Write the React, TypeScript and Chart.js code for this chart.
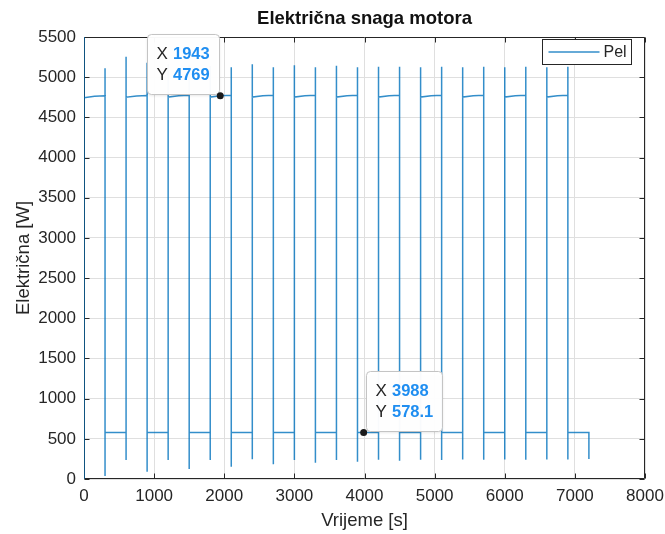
import React, { useEffect, useRef } from "react";
import { Chart, registerables } from "chart.js";

Chart.register(...registerables);

// ---- data ----
const chartTitle = "Električna snaga motora";
const xAxisTitle = "Vrijeme [s]";
const yAxisTitle = "Električna [W]";
const seriesName = "Pel";

const xTicks = [0, 1000, 2000, 3000, 4000, 5000, 6000, 7000, 8000];
const yTicks = [0, 500, 1000, 1500, 2000, 2500, 3000, 3500, 4000, 4500, 5000, 5500];

// value at t = 0 (line rises from 0 past the top of the axes)
const initialValues = [0, 5500];

// start times of each 300 s segment
const segmentTimes = [0, 300, 600, 900, 1200, 1500, 1800, 2100, 2400, 2700, 3000, 3300,
  3600, 3900, 4200, 4500, 4800, 5100, 5400, 5700, 6000, 6300, 6600, 6900];
// switching instants (segment ends)
const switchTimes = [300, 600, 900, 1200, 1500, 1800, 2100, 2400, 2700, 3000, 3300, 3600,
  3900, 4200, 4500, 4800, 5100, 5400, 5700, 6000, 6300, 6600, 6900, 7200];

// power level at start / middle / end of each segment
const segStart = [4743, 580, 4750, 579, 4752, 579, 4752, 579, 4753, 579, 4753, 578,
  4753, 578, 4753, 578, 4753, 578, 4753, 578, 4753, 578, 4753, 578];
const segMid = [4762, 578, 4766, 578, 4768, 578, 4769, 578, 4770, 578, 4770, 578,
  4770, 578.1, 4770, 578, 4770, 578, 4770, 578, 4770, 578, 4770, 578];
const segEnd = [4768, 578, 4773, 578, 4775, 578, 4776, 578, 4776, 578, 4776, 578,
  4776, 578, 4776, 578, 4776, 578, 4776, 578, 4776, 578, 4776, 578];

// transient peaks at each switching instant
const spikeMax = [5110, 5255, 5180, 5160, 5150, 5140, 5123, 5160, 5123, 5150, 5123, 5143,
  5123, 5131, 5131, 5123, 5131, 5123, 5131, 5123, 5131, 5123, 5131, 578];
const spikeMin = [37, 236, 91, 236, 124, 236, 153, 245, 182, 236, 203, 236,
  216, 240, 228, 240, 236, 242, 240, 242, 240, 242, 242, 249];

// data tips
const tipX = [1943, 3988];
const tipY = [4769, 578.1];
const tipYLabels = ["4769", "578.1"];

const FONT = '"Liberation Sans", Arial, Helvetica, sans-serif';
const LINE_COLOR = "rgba(0,114,189,0.8)";
const AXIS_COLOR = "#262626";

function buildPoints() {
  const pts: { x: number; y: number }[] = [];
  initialValues.forEach((v) => pts.push({ x: 0, y: v }));
  for (let i = 0; i < segmentTimes.length; i++) {
    const t0 = segmentTimes[i];
    const t1 = switchTimes[i];
    pts.push({ x: t0, y: segStart[i] });
    pts.push({ x: (t0 + t1) / 2, y: segMid[i] });
    pts.push({ x: t1, y: segEnd[i] });
    pts.push({ x: t1, y: spikeMax[i] });
    pts.push({ x: t1, y: spikeMin[i] });
  }
  return pts;
}

function roundRect(ctx: CanvasRenderingContext2D, x: number, y: number, w: number, h: number, r: number) {
  ctx.beginPath();
  ctx.moveTo(x + r, y);
  ctx.lineTo(x + w - r, y);
  ctx.arcTo(x + w, y, x + w, y + r, r);
  ctx.lineTo(x + w, y + h - r);
  ctx.arcTo(x + w, y + h, x + w - r, y + h, r);
  ctx.lineTo(x + r, y + h);
  ctx.arcTo(x, y + h, x, y + h - r, r);
  ctx.lineTo(x, y + r);
  ctx.arcTo(x, y, x + r, y, r);
  ctx.closePath();
}

const framePlugin = {
  id: "matlabFrame",
  beforeDatasetsDraw(chart: any) {
    const { ctx, chartArea, scales } = chart;
    const { left, right, top, bottom } = chartArea;
    ctx.save();
    ctx.strokeStyle = AXIS_COLOR;
    ctx.lineWidth = 1;
    const L = Math.round(left) + 0.5;
    const R = Math.round(right) - 0.5;
    const T = Math.round(top) + 0.5;
    const B = Math.round(bottom) - 0.5;
    ctx.beginPath();
    ctx.rect(L, T, R - L, B - T);
    ctx.stroke();
    const tl = 5;
    ctx.beginPath();
    xTicks.forEach((v) => {
      const px = Math.round(scales.x.getPixelForValue(v)) + 0.5;
      ctx.moveTo(px, B);
      ctx.lineTo(px, B - tl);
      ctx.moveTo(px, T);
      ctx.lineTo(px, T + tl);
    });
    yTicks.forEach((v) => {
      const py = Math.round(scales.y.getPixelForValue(v)) + 0.5;
      ctx.moveTo(L, py);
      ctx.lineTo(L + tl, py);
      ctx.moveTo(R, py);
      ctx.lineTo(R - tl, py);
    });
    ctx.stroke();
    ctx.restore();
  },
  afterDraw(chart: any) {
    const { ctx, chartArea, scales } = chart;
    ctx.save();
    // legend
    const lw = 89;
    const lh = 25;
    const lx = Math.round(chartArea.right - 14 - lw) + 0.5;
    const ly = Math.round(chartArea.top + 2) + 0.5;
    ctx.fillStyle = "#ffffff";
    ctx.fillRect(lx, ly, lw, lh);
    ctx.strokeStyle = AXIS_COLOR;
    ctx.lineWidth = 1;
    ctx.strokeRect(lx, ly, lw, lh);
    ctx.strokeStyle = LINE_COLOR;
    ctx.lineWidth = 1.4;
    ctx.beginPath();
    ctx.moveTo(lx + 6, ly + lh / 2);
    ctx.lineTo(lx + 57, ly + lh / 2);
    ctx.stroke();
    ctx.fillStyle = AXIS_COLOR;
    ctx.font = `16px ${FONT}`;
    ctx.textBaseline = "middle";
    ctx.textAlign = "left";
    ctx.fillText(seriesName, lx + 61, ly + lh / 2 + 1);

    // data tips
    for (let i = 0; i < tipX.length; i++) {
      const px = scales.x.getPixelForValue(tipX[i]);
      const py = scales.y.getPixelForValue(tipY[i]);
      const w = i === 0 ? 72 : 76;
      const h = 60;
      const bx = i === 0 ? Math.round(px - 73) + 0.5 : Math.round(px + 2) + 0.5;
      const by = Math.round(py - 62) + 0.5;
      ctx.shadowColor = "rgba(0,0,0,0.12)";
      ctx.shadowBlur = 3;
      ctx.shadowOffsetY = 1;
      roundRect(ctx, bx, by, w, h, 4);
      ctx.fillStyle = "rgba(255,255,255,0.97)";
      ctx.fill();
      ctx.shadowColor = "transparent";
      ctx.shadowBlur = 0;
      ctx.shadowOffsetY = 0;
      ctx.strokeStyle = "#c4c4c4";
      ctx.lineWidth = 1;
      ctx.stroke();
      ctx.textBaseline = "middle";
      ctx.textAlign = "left";
      ctx.fillStyle = AXIS_COLOR;
      ctx.font = `17px ${FONT}`;
      ctx.fillText("X", bx + 9, by + 20);
      ctx.fillText("Y", bx + 9, by + 41);
      ctx.fillStyle = "#1f8ef1";
      ctx.font = `bold 16.5px ${FONT}`;
      ctx.fillText(String(tipX[i]), bx + 25.5, by + 20);
      ctx.fillText(tipYLabels[i], bx + 25.5, by + 41);
      // marker
      ctx.fillStyle = "#1a1a1a";
      ctx.beginPath();
      ctx.arc(px, py, 3.5, 0, Math.PI * 2);
      ctx.fill();
    }
    ctx.restore();
  },
};

export default function App() {
  const canvasRef = useRef<HTMLCanvasElement | null>(null);

  useEffect(() => {
    if (!canvasRef.current) return;
    Chart.defaults.font.family = FONT;
    const chart = new Chart(canvasRef.current, {
      type: "line",
      data: {
        datasets: [
          {
            label: seriesName,
            data: buildPoints(),
            borderColor: LINE_COLOR,
            borderWidth: 1.5,
            pointRadius: 0,
            pointHoverRadius: 0,
            tension: 0,
            fill: false,
          },
        ],
      },
      options: {
        animation: false,
        responsive: false,
        maintainAspectRatio: false,
        parsing: true,
        layout: { padding: { left: 0, right: 20, top: 0, bottom: 0 } },
        plugins: {
          legend: { display: false },
          tooltip: { enabled: false },
          title: {
            display: true,
            text: chartTitle,
            fullSize: false,
            color: "#111111",
            font: { size: 18.5, weight: "bold", family: FONT },
            padding: { top: 8, bottom: 6.8 },
          },
        },
        scales: {
          x: {
            type: "linear",
            min: 0,
            max: 8000,
            afterFit: (s: any) => {
              s.height = 55;
              s.paddingLeft = 0;
              s.paddingRight = 0;
            },
            afterBuildTicks: (s: any) => {
              s.ticks = xTicks.map((v) => ({ value: v }));
            },
            ticks: {
              color: AXIS_COLOR,
              font: { size: 17, family: FONT },
              padding: 7,
              maxRotation: 0,
              autoSkip: false,
              callback: (v: any) => String(v),
            },
            grid: { color: "#dfdfdf", lineWidth: 1, drawTicks: false },
            border: { display: false },
            title: {
              display: true,
              text: xAxisTitle,
              color: AXIS_COLOR,
              font: { size: 18.5, family: FONT },
              padding: { top: 0, bottom: 2 },
            },
          },
          y: {
            type: "linear",
            min: 0,
            max: 5500,
            afterFit: (s: any) => {
              s.width = 84;
              s.paddingTop = 0;
              s.paddingBottom = 0;
            },
            afterBuildTicks: (s: any) => {
              s.ticks = yTicks.map((v) => ({ value: v }));
            },
            ticks: {
              color: AXIS_COLOR,
              font: { size: 17, family: FONT },
              padding: 8,
              autoSkip: false,
              callback: (v: any) => String(v),
            },
            grid: { color: "#dfdfdf", lineWidth: 1, drawTicks: false },
            border: { display: false },
            title: {
              display: true,
              text: yAxisTitle,
              color: AXIS_COLOR,
              font: { size: 18.5, family: FONT },
              padding: { top: 13, bottom: 0 },
            },
          },
        },
      },
      plugins: [framePlugin],
    });
    return () => chart.destroy();
  }, []);

  return (
    <div style={{ position: "absolute", left: 0, top: 0, width: 665, height: 534, background: "#ffffff" }}>
      <canvas ref={canvasRef} width={665} height={534} style={{ display: "block", width: 665, height: 534 }} />
    </div>
  );
}
